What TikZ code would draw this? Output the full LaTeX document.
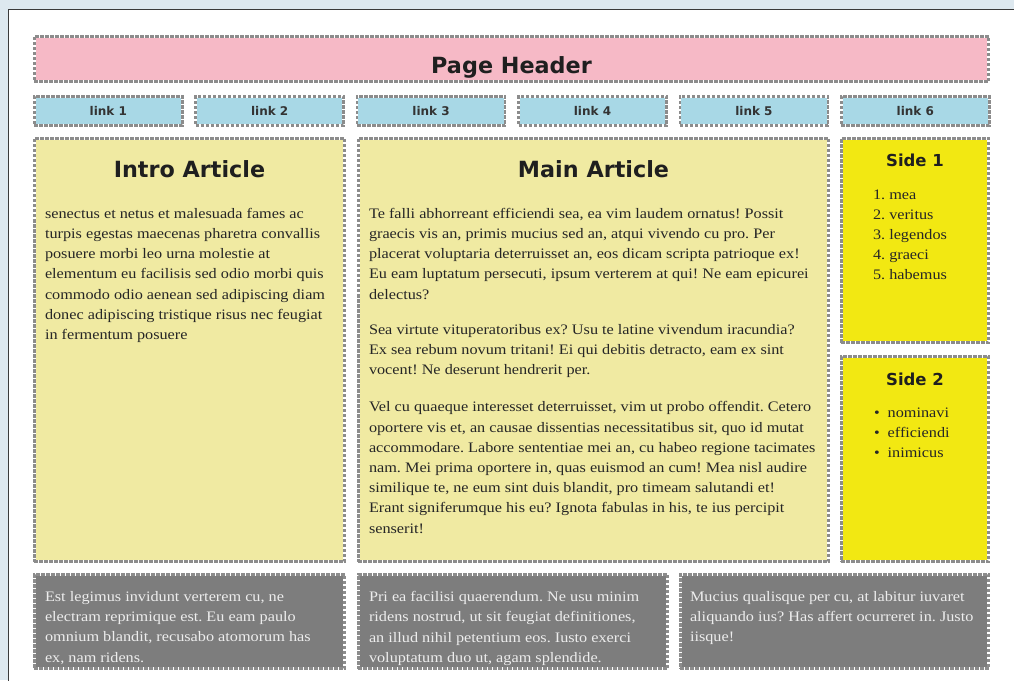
\documentclass[tikz,border=0pt]{standalone}
\usepackage{fontspec}
\setmainfont{Liberation Serif}[FakeStretch=1.12]
\newfontfamily\uifont{DejaVu Sans}
\usetikzlibrary{positioning}

\definecolor{pagebg}{HTML}{DDE8EF}
\definecolor{frameline}{HTML}{3A3A3A}
\definecolor{dashgray}{HTML}{8C8C8C}
\definecolor{headerpink}{HTML}{F6B9C6}
\definecolor{linkblue}{HTML}{A8D8E6}
\definecolor{articlecream}{HTML}{F0EAA2}
\definecolor{sideyellow}{HTML}{F2E812}
\definecolor{footgray}{HTML}{7D7D7D}
\definecolor{inktext}{HTML}{262626}
\definecolor{foottext}{HTML}{EDEDED}

\frenchspacing

\begin{document}
\begin{tikzpicture}[
  x=1pt, y=-1pt,
  every node/.style={inner sep=0pt, outer sep=0pt},
  box/.style={fill=#1,
    postaction={draw=white, line width=2.6pt},
    postaction={draw=dashgray, line width=2.6pt, dash pattern=on 3.4pt off 1.6pt}},
  boxtitle/.style={font=\uifont\bfseries\fontsize{22.3}{27}\selectfont, text=black!88, anchor=base},
  sidetitle/.style={font=\uifont\bfseries\fontsize{16.5}{20}\selectfont, text=black!88, anchor=base},
  linklabel/.style={font=\uifont\bfseries\fontsize{12}{14}\selectfont, text=black!80},
  body/.style={font=\fontsize{14.5}{20.2}\selectfont, text=inktext, align=left, anchor=north west},
  foot/.style={body, text=foottext},
  ]

\useasboundingbox (0,0) rectangle (1014,680);
\clip (0,0) rectangle (1014,680);

% window behind the page
\fill[pagebg] (0,0) rectangle (1014,680);
\draw[frameline, line width=1.8pt, fill=white] (8.5,9.5) rectangle (1040,700);

% header and nav links
\node[box=headerpink, minimum width=954.4pt, minimum height=45.4pt] (header) at (511.5,59) {};
\node[boxtitle] (headertitle) at (511.5,73) {Page Header};

\foreach \i in {1,...,6}
  \node[box=linkblue, linklabel, minimum width=148pt, minimum height=29.4pt]
    (link\i) at ({108.3+(\i-1)*161.4},111) {link \i};

% the two articles
\node[box=articlecream, minimum width=310.4pt, minimum height=423.4pt] (intro) at (189.5,350) {};
\node[box=articlecream, minimum width=470.4pt, minimum height=423.4pt] (main) at (593.5,350) {};

\node[boxtitle] (introtitle) at (189.5,177) {Intro Article};
\node[boxtitle] (maintitle) at (593.5,177) {Main Article};

\node[body] (introtext) at (45,208) {senectus et netus et malesuada fames ac\\
turpis egestas maecenas pharetra convallis\\
posuere morbi leo urna molestie at\\
elementum eu facilisis sed odio morbi quis\\
commodo odio aenean sed adipiscing diam\\
donec adipiscing tristique risus nec feugiat\\
in fermentum posuere};

\node[body] (maintext) at (369,208) {Te falli abhorreant efficiendi sea, ea vim laudem ornatus! Possit\\
graecis vis an, primis mucius sed an, atqui vivendo cu pro. Per\\
placerat voluptaria deterruisset an, eos dicam scripta patrioque ex!\\
Eu eam luptatum persecuti, ipsum verterem at qui! Ne eam epicurei\\
delectus?\\[15pt]
Sea virtute vituperatoribus ex? Usu te latine vivendum iracundia?\\
Ex sea rebum novum tritani! Ei qui debitis detracto, eam ex sint\\
vocent! Ne deserunt hendrerit per.\\[17pt]
Vel cu quaeque interesset deterruisset, vim ut probo offendit. Cetero\\
oportere vis et, an causae dissentias necessitatibus sit, quo id mutat\\
accommodare. Labore sententiae mei an, cu habeo regione tacimates\\
nam. Mei prima oportere in, quas euismod an cum! Mea nisl audire\\
similique te, ne eum sint duis blandit, pro timeam salutandi et!\\
Erant signiferumque his eu? Ignota fabulas in his, te ius percipit\\
senserit!};

% sidebars
\node[box=sideyellow, minimum width=147.4pt, minimum height=204.4pt] (side1) at (915,240.5) {};
\node[box=sideyellow, minimum width=147.4pt, minimum height=205.4pt] (side2) at (915,459) {};

\node[sidetitle] (side1title) at (915,166) {Side 1};
\node[sidetitle] (side2title) at (915,385) {Side 2};

\node[body] (side1list) at (873,189.5) {1.~mea\\ 2.~veritus\\ 3.~legendos\\ 4.~graeci\\ 5.~habemus};
\node[body] (side2list) at (874,407.5) {\textbullet\hspace{8pt}nominavi\\
\textbullet\hspace{8pt}efficiendi\\
\textbullet\hspace{8pt}inimicus};

% footer row
\node[box=footgray, minimum width=310.4pt, minimum height=94.4pt] (foot1) at (189.5,621.5) {};
\node[box=footgray, minimum width=309.4pt, minimum height=94.4pt] (foot2) at (513,621.5) {};
\node[box=footgray, minimum width=308.4pt, minimum height=94.4pt] (foot3) at (834.5,621.5) {};

\node[foot] (foot1text) at (45,591.5) {Est legimus invidunt verterem cu, ne\\
electram reprimique est. Eu eam paulo\\
omnium blandit, recusabo atomorum has\\
ex, nam ridens.};
\node[foot] (foot2text) at (369,591.5) {Pri ea facilisi quaerendum. Ne usu minim\\
ridens nostrud, ut sit feugiat definitiones,\\
an illud nihil petentium eos. Iusto exerci\\
voluptatum duo ut, agam splendide.};
\node[foot] (foot3text) at (690,591.5) {Mucius qualisque per cu, at labitur iuvaret\\
aliquando ius? Has affert ocurreret in. Justo\\
iisque!};

\end{tikzpicture}
\end{document}
